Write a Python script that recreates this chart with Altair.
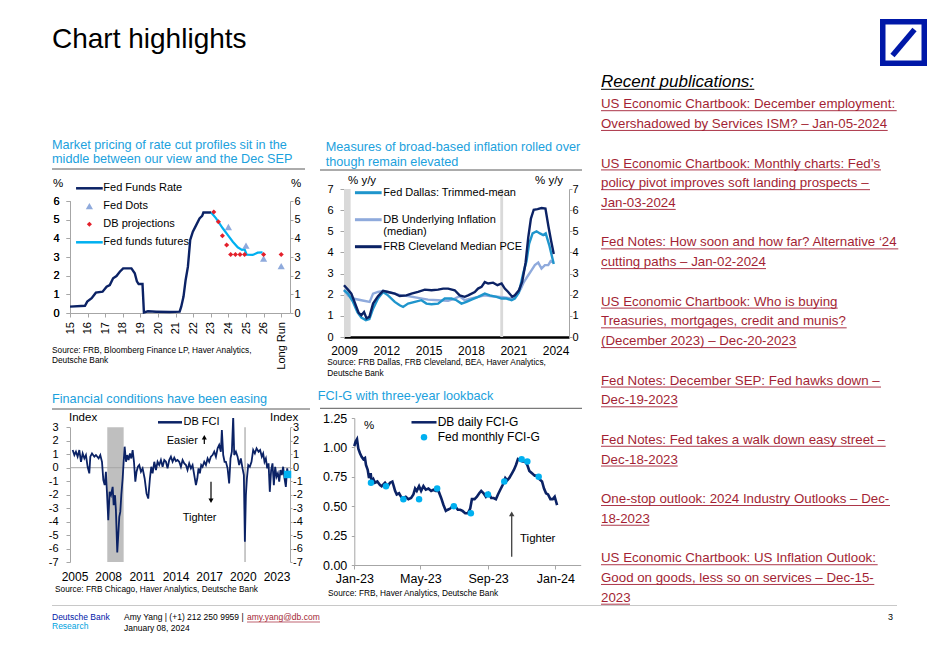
import altair as alt
import pandas as pd

FONT = "Liberation Sans"
NAVY = "#0B2265"
CYAN = "#00B0F0"
PERI = "#8FAADC"
TEAL = "#1F95CC"
RED = "#E3202B"
TBLUE = "#1BA1DD"
PRED = "#A31F34"
LOGO = "#0018A8"
AX = "#A6A6A6"

# ---------------- chart 1 data: rate path ----------------
ffr_year = [2015.0, 2015.85, 2015.98, 2016.23, 2016.47, 2016.85, 2017.08, 2017.26, 2017.45, 2017.64,
            2017.83, 2018.02, 2018.49, 2018.68, 2018.8, 2018.9, 2019.12, 2019.2, 2019.43, 2019.9,
            2020.66, 2021.23, 2021.32, 2021.45, 2021.57, 2021.7, 2021.83, 2021.98, 2022.17, 2022.36,
            2022.51, 2022.58, 2023.02]
ffr_val = [0.34, 0.39, 0.61, 0.79, 1.09, 1.14, 1.41, 1.5, 1.86, 1.98,
           2.21, 2.39, 2.39, 2.13, 1.7, 1.55, 1.55, 0.03, 0.09, 0.07,
           0.05, 0.07, 0.34, 0.88, 1.77, 2.48, 3.91, 4.36, 4.71, 5.07,
           5.2, 5.38, 5.38]
fut_year = [2023.02, 2023.3, 2023.68, 2023.96, 2024.25, 2024.53, 2024.77, 2024.92, 2025.04, 2025.38, 2025.66, 2025.94]
fut_val = [5.38, 5.07, 4.54, 4.18, 3.82, 3.52, 3.38, 3.41, 3.13, 3.11, 3.23, 3.25]
dots_year = [2024.0, 2025.0, 2026.0, 2027.0]
dots_val = [4.6, 3.6, 2.9, 2.5]
dbp_year = [2023.17, 2023.43, 2023.66, 2023.9, 2024.13, 2024.4, 2024.66, 2024.92, 2026.0, 2027.0]
dbp_val = [5.41, 4.89, 4.14, 3.64, 3.13, 3.13, 3.13, 3.13, 3.13, 3.13]

# ---------------- chart 2 data: inflation ----------------
clev_year = [2009.0, 2009.28, 2009.52, 2009.7, 2009.88, 2010.04, 2010.23, 2010.42, 2010.6, 2010.8,
             2011.06, 2011.41, 2011.77, 2012.12, 2012.6, 2012.95, 2013.42, 2013.78, 2014.25, 2014.73,
             2015.2, 2015.67, 2016.03, 2016.38, 2016.85, 2017.2, 2017.56, 2017.8, 2018.27, 2018.5,
             2018.75, 2018.98, 2019.22, 2019.57, 2019.88, 2020.17, 2020.4, 2020.64, 2020.92, 2021.11,
             2021.4, 2021.63, 2021.87, 2022.06, 2022.25, 2022.45, 2022.72, 2023.0, 2023.28, 2023.5,
             2023.68, 2023.87]
clev_val = [2.45, 2.24, 2.05, 1.74, 1.42, 1.14, 1.03, 1.18, 0.88, 0.95,
            1.58, 1.93, 2.18, 2.13, 2.05, 1.94, 1.97, 2.05, 2.13, 2.24,
            2.21, 2.24, 2.29, 2.29, 2.21, 1.97, 1.9, 1.97, 2.13, 2.29,
            2.37, 2.6, 2.53, 2.57, 2.45, 2.53, 2.29, 2.13, 1.9, 1.97,
            2.21, 2.6, 3.5, 4.7, 5.6, 6.02, 6.05, 6.1, 6.07, 5.2,
            4.55, 3.93]
trim_year = [2009.0, 2009.28, 2009.64, 2009.95, 2010.23, 2010.55, 2010.8, 2011.06, 2011.41, 2011.77,
             2012.12, 2012.6, 2012.95, 2013.19, 2013.54, 2014.02, 2014.49, 2014.84, 2015.2, 2015.67,
             2016.14, 2016.62, 2016.97, 2017.33, 2017.68, 2018.04, 2018.51, 2018.98, 2019.34, 2019.81,
             2020.17, 2020.52, 2020.88, 2021.11, 2021.4, 2021.7, 2021.94, 2022.12, 2022.37, 2022.65,
             2022.89, 2023.12, 2023.3, 2023.55, 2023.87]
trim_val = [2.21, 2.05, 1.66, 1.18, 0.92, 0.8, 0.85, 1.34, 1.82, 2.13,
            1.97, 1.66, 1.5, 1.42, 1.58, 1.66, 1.74, 1.58, 1.55, 1.58,
            1.82, 1.82, 1.74, 1.58, 1.66, 1.77, 1.9, 2.05, 1.97, 1.9,
            1.82, 1.82, 1.74, 1.82, 2.1, 3.0, 3.6, 4.4, 4.9, 5.0,
            4.9, 4.82, 4.9, 4.35, 3.45]
dbu_year = [2009.0, 2009.28, 2009.64, 2010.23, 2010.82, 2011.06, 2011.41, 2011.77, 2012.12, 2012.6,
            2013.07, 2013.54, 2014.25, 2014.96, 2015.67, 2016.38, 2016.85, 2017.2, 2017.56, 2018.04,
            2018.51, 2018.98, 2019.46, 2020.05, 2020.52, 2020.92, 2021.23, 2021.54, 2021.75, 2022.06,
            2022.3, 2022.53, 2022.77, 2023.0, 2023.24, 2023.48, 2023.65, 2023.87]
dbu_val = [2.24, 1.97, 1.82, 1.74, 1.66, 2.05, 2.13, 2.18, 2.13, 2.05,
           1.97, 1.94, 1.85, 1.77, 1.74, 1.71, 1.82, 1.93, 1.74, 1.82,
           1.9, 1.97, 1.93, 1.9, 1.86, 1.82, 1.97, 2.29, 2.6, 2.92,
           3.16, 3.4, 3.52, 3.24, 3.4, 3.4, 3.59, 3.52]
rec2_start = [2009.0, 2020.08]
rec2_end = [2009.47, 2020.28]

# ---------------- chart 3 data: DB FCI ----------------
fci_year = [2004.84, 2004.99, 2005.13, 2005.28, 2005.43, 2005.58, 2005.73, 2005.88, 2006.02, 2006.17,
            2006.32, 2006.41, 2006.56, 2006.77, 2006.91, 2007.15, 2007.3, 2007.45, 2007.57, 2007.69,
            2007.8, 2007.89, 2008.01, 2008.13, 2008.25, 2008.4, 2008.49, 2008.61, 2008.69, 2008.81,
            2008.9, 2008.99, 2009.08, 2009.17, 2009.29, 2009.38, 2009.47, 2009.59, 2009.7, 2009.82,
            2009.94, 2010.06, 2010.18, 2010.3, 2010.42, 2010.53, 2010.65, 2010.77, 2010.92, 2011.07,
            2011.25, 2011.42, 2011.57, 2011.72, 2011.84, 2011.96, 2012.11, 2012.26, 2012.4, 2012.55,
            2012.7, 2012.85, 2013.0, 2013.15, 2013.29, 2013.44, 2013.59, 2013.74, 2013.89, 2014.04,
            2014.18, 2014.33, 2014.48, 2014.63, 2014.78, 2014.93, 2015.07, 2015.22, 2015.37, 2015.52,
            2015.67, 2015.82, 2015.94, 2016.05, 2016.17, 2016.29, 2016.41, 2016.56, 2016.71, 2016.86,
            2017.0, 2017.15, 2017.3, 2017.45, 2017.6, 2017.75, 2017.89, 2018.04, 2018.13, 2018.25,
            2018.37, 2018.49, 2018.64, 2018.78, 2018.9, 2019.02, 2019.14, 2019.23, 2019.38, 2019.53,
            2019.67, 2019.82, 2019.97, 2020.09, 2020.18, 2020.27, 2020.36, 2020.48, 2020.62, 2020.77,
            2020.92, 2021.07, 2021.22, 2021.4, 2021.54, 2021.69, 2021.81, 2021.93, 2022.05, 2022.17,
            2022.29, 2022.4, 2022.52, 2022.64, 2022.76, 2022.88, 2023.0, 2023.12, 2023.24, 2023.35,
            2023.47, 2023.59, 2023.71, 2023.83, 2023.95, 2024.04]
fci_val = [1.31, 0.94, 1.19, 0.82, 1.31, 0.44, 1.06, 0.69, 0.94, 0.07,
           -0.42, 0.82, 1.06, 0.82, 0.94, 0.69, 0.94, 0.44, -0.92, -1.29,
           -0.3, -1.79, -3.9, -1.79, -2.04, -1.42, -2.78, -2.04, -3.15, -6.3,
           -5.0, -3.65, -3.28, -2.04, -0.8, 0.44, 1.56, 0.44, 0.94, 0.57,
           1.06, 0.69, 1.31, 0.44, -1.04, -0.3, 0.07, 0.2, -0.3, -0.05,
           -0.8, -1.91, -2.29, -0.8, 0.07, -0.42, 0.44, -0.17, 0.44, 0.2,
           0.57, 0.07, 0.57, 0.44, -0.05, 0.57, 0.82, 0.44, 0.74, 0.49,
           0.57, 0.44, 0.07, 0.57, 0.32, 0.2, -0.17, 0.32, -0.05, 0.2,
           -0.55, -1.29, -0.8, -0.05, -0.42, 0.2, 0.07, 0.44, 0.2, 0.69,
           0.44, 0.82, 0.94, 1.19, 0.82, 1.44, 1.69, 1.19, 2.8, 0.94,
           0.44, 0.44, -0.05, -1.17, 0.69, 1.19, 3.8, 0.94, 1.19, 0.82,
           0.2, 0.69, -0.05, -0.55, -5.5, -2.04, -0.8, 0.2, 0.07, 0.44,
           1.31, 1.06, 1.44, 1.19, 1.31, 0.82, 1.06, 0.44, 0.69, -0.05,
           0.32, -1.79, -0.17, 0.32, -1.29, 0.07, -0.67, -0.42, -1.04, -0.17,
           -0.55, 0.07, -0.8, -1.42, -0.05, -0.55]
rec3_start = [2007.92, 2020.12]
rec3_end = [2009.38, 2020.27]
fci_last_year = [2023.98]
fci_last_val = [-0.5]

# ---------------- chart 4 data: FCI-G ----------------
g_days = [0, 2.4, 4.9, 7.3, 10.3, 13.3, 16.4, 19.4, 21.2, 24.3,
          26.7, 29.7, 31.5, 34.6, 37.6, 41.8, 46.7, 49.7, 55.8, 60.6,
          64.9, 69.1, 71.6, 74, 77, 81.3, 84.9, 89.1, 93.4, 98.2,
          103.1, 107.3, 110.4, 113.4, 117.6, 121.3, 125.5, 129.8, 134.6, 139.5,
          143.7, 148, 152.8, 157.7, 161.9, 166.2, 169.8, 174, 178.3, 183.1,
          188, 192.2, 196.5, 201.3, 206.2, 210.4, 213.5, 218.3, 222.6, 226.8,
          230.4, 234.7, 238.9, 243.8, 248.6, 252.9, 257.1, 260.8, 265, 269.3,
          274.1, 277.7, 281.4, 286.2, 289.9, 293.5, 297.1, 301.4, 305.6, 310.5,
          314.1, 317.8, 322.6, 327.5, 331.7, 336, 340.8, 344.4, 348.1, 351.7,
          356, 360.2, 363.8, 366.3, 368.1]
g_vals = [1.01, 1.05, 1.07, 0.99, 0.95, 0.92, 0.9, 0.91, 0.85, 0.81,
          0.74, 0.78, 0.71, 0.73, 0.7, 0.71, 0.68, 0.67, 0.7, 0.67,
          0.7, 0.71, 0.67, 0.63, 0.6, 0.61, 0.58, 0.57, 0.58, 0.56,
          0.57, 0.6, 0.65, 0.63, 0.67, 0.63, 0.67, 0.64, 0.65, 0.63,
          0.64, 0.63, 0.63, 0.57, 0.51, 0.46, 0.47, 0.48, 0.5, 0.5,
          0.47, 0.47, 0.46, 0.44, 0.44, 0.48, 0.56, 0.56, 0.58, 0.61,
          0.63, 0.61, 0.58, 0.61, 0.57, 0.57, 0.56, 0.6, 0.64, 0.68,
          0.74, 0.72, 0.74, 0.78, 0.81, 0.85, 0.9, 0.89, 0.88, 0.88,
          0.85, 0.8, 0.78, 0.76, 0.76, 0.73, 0.71, 0.65, 0.61, 0.6,
          0.56, 0.56, 0.58, 0.54, 0.51]
m_days = [30.3, 57.6, 89.1, 117.6, 150.4, 180.7, 211.6, 242.6, 272.3, 303.8, 314.1, 334.7]
m_vals = [0.70, 0.67, 0.56, 0.56, 0.65, 0.50, 0.44, 0.60, 0.71, 0.90, 0.88, 0.75]

# ---------------- publications ----------------
pubs = [
    ["US Economic Chartbook: December employment:", "Overshadowed by Services ISM? \u2013 Jan-05-2024"],
    ["US Economic Chartbook: Monthly charts: Fed\u2019s", "policy pivot improves soft landing prospects \u2013", "Jan-03-2024"],
    ["Fed Notes: How soon and how far? Alternative \u201824", "cutting paths \u2013 Jan-02-2024"],
    ["US Economic Chartbook: Who is buying", "Treasuries, mortgages, credit and munis?", "(December 2023) \u2013 Dec-20-2023"],
    ["Fed Notes: December SEP: Fed hawks down \u2013", "Dec-19-2023"],
    ["Fed Notes: Fed takes a walk down easy street \u2013", "Dec-18-2023"],
    ["One-stop outlook: 2024 Industry Outlooks \u2013 Dec-", "18-2023"],
    ["US Economic Chartbook: US Inflation Outlook:", "Good on goods, less so on services \u2013 Dec-15-", "2023"],
]
# underline end (page x) of each publication line, measured on the reference
PUB_UL_END = [896.7, 887.7, 881, 870, 675.7, 898.3, 766, 837.7, 846.7, 796.7,
              881, 677.7, 885.7, 677.7, 890, 649.3, 877.7, 874.3, 630]

ONE = pd.DataFrame({"k": [0]})
NEG_FMT = "datum.value < 0 ? '-' + format(-datum.value, 'd') : format(datum.value, 'd')"


def T(s, x, y, size=11.0, color="#000000", align="left", style="normal"):
    return alt.Chart(ONE).mark_text(
        text=s, align=align, baseline="alphabetic", font=FONT,
        fontSize=size, color=color, fontStyle=style
    ).encode(x=alt.value(x), y=alt.value(y))


def H(x1, x2, y, color="#595959", w=1.0):
    return alt.Chart(ONE).mark_rule(color=color, strokeWidth=w).encode(
        x=alt.value(x1), x2=alt.value(x2), y=alt.value(y))


def V(x, y1, y2, color="#000000", w=1.2):
    return alt.Chart(ONE).mark_rule(color=color, strokeWidth=w).encode(
        x=alt.value(x), y=alt.value(y1), y2=alt.value(y2))


def HEAD(x, y, shape, color="#000000", size=28):
    return alt.Chart(ONE).mark_point(shape=shape, filled=True, size=size, color=color, opacity=1).encode(
        x=alt.value(x), y=alt.value(y))


def BOX(x1, x2, y1, y2, color):
    return alt.Chart(ONE).mark_rect(color=color).encode(
        x=alt.value(x1), x2=alt.value(x2), y=alt.value(y1), y2=alt.value(y2))


def SP(w, h):
    return alt.Chart(ONE).mark_point(opacity=0, size=0, strokeWidth=0).encode(
        x=alt.value(0), y=alt.value(0)).properties(width=w, height=h)


# ================= header / page cell (origin page 70,8) =================
hdr = [T("Chart highlights", -18, 40, size=28)]
hdr += [BOX(810, 857, 11, 58, LOGO), BOX(815.5, 851.5, 16.5, 52.5, "#FFFFFF"),
        alt.Chart(ONE).mark_rule(color=LOGO, strokeWidth=5.5).encode(
            x=alt.value(822.5), y=alt.value(47.5), x2=alt.value(844.5), y2=alt.value(21.5))]
hdr += [T("Recent publications:", 531, 78.7, size=17, style="italic"), H(531, 684.3, 81.3, "#000000", 1)]
slot = 0
k = 0
for item in pubs:
    for line in item:
        yb = 100.3 + 19.74 * slot
        hdr.append(T(line, 531, yb, size=13.3, color=PRED))
        hdr.append(H(531, PUB_UL_END[k] - 70, yb + 2.4, PRED, 0.9))
        slot += 1
        k += 1
    slot += 1
hdr += [H(-18, 827, 597.5, "#C8C8C8", 1),
        T("Deutsche Bank", -18, 612, size=8.5, color=LOGO),
        T("Research", -18, 621, size=8.5, color="#00A3E0"),
        T("Amy Yang | (+1) 212 250 9959 | ", 54, 612, size=8.5),
        T("amy.yang@db.com", 177, 612, size=8.5, color=PRED),
        H(177, 250, 614, PRED, 0.7),
        T("January 08, 2024", 54, 623, size=8.5),
        T("3", 818, 612, size=9)]
header = alt.layer(*hdr).properties(width=220, height=181)

# ================= chart 1 (cell origin page 70,189) =================
c1_names = ["Fed Funds Rate", "Fed Dots", "DB projections", "Fed funds futures"]
c1_cols = [NAVY, PERI, RED, CYAN]
LINE1 = "M-4.45,-0.42L4.45,-0.42L4.45,0.42L-4.45,0.42Z"
TRI1 = "M0,-1.1L1.2,1L-1.2,1Z"
DIA1 = "M0,-0.85L0.85,0L0,0.85L-0.85,0Z"
c1_shapes = [LINE1, TRI1, DIA1, LINE1]

df1_ffr = pd.DataFrame({"year": ffr_year, "value": ffr_val})
df1_fut = pd.DataFrame({"year": fut_year, "value": fut_val})
df1_pts = pd.DataFrame({
    "year": dots_year + dbp_year, "value": dots_val + dbp_val,
    "series": ["Fed Dots"] * len(dots_year) + ["DB projections"] * len(dbp_year)})

xs1 = alt.Scale(domain=[2015, 2027.5], nice=False, zero=False)
ys1 = alt.Scale(domain=[0, 6], nice=False, zero=False, range=[124, 12])
col1 = alt.Scale(domain=c1_names, range=c1_cols)
shp1 = alt.Scale(domain=c1_names, range=c1_shapes)
leg1 = dict(orient="none", legendX=13.9, legendY=-6.2, title=None, labelFont=FONT, labelFontSize=11,
            labelColor="#000000", symbolSize=36, symbolStrokeWidth=0, symbolOpacity=1,
            labelOffset=8.4, rowPadding=6, padding=0)
xax1 = alt.Axis(values=list(range(2015, 2028)),
                labelExpr="datum.value == 2027 ? 'Long Run' : format(datum.value - 2000, 'd')",
                labelAngle=270, labelAlign="right", labelBaseline="middle", labelFlush=False,
                tickSize=4, labelPadding=4.5, labelFontSize=11, title=None)
yax1l = alt.Axis(values=list(range(7)), orient="left", tickSize=4, labelPadding=7, labelFontSize=11, title=None)
yax1r = alt.Axis(values=list(range(7)), orient="right", tickSize=3, labelPadding=1, labelFontSize=11, title=None)

ffr1 = alt.Chart(df1_ffr).mark_line(strokeWidth=2.4, color=NAVY).encode(
    x=alt.X("year:Q", scale=xs1, axis=xax1),
    y=alt.Y("value:Q", scale=ys1, axis=yax1l))
fut1 = alt.Chart(df1_fut).mark_line(strokeWidth=2.2, color=CYAN).encode(
    x=alt.X("year:Q", scale=xs1, axis=xax1),
    y=alt.Y("value:Q", scale=ys1, axis=yax1l))
pts1 = alt.Chart(df1_pts).mark_point(filled=True, size=36, opacity=1).encode(
    x=alt.X("year:Q", scale=xs1, axis=xax1),
    y=alt.Y("value:Q", scale=ys1, axis=yax1r),
    color=alt.Color("series:N", scale=col1, legend=alt.Legend(**leg1)),
    shape=alt.Shape("series:N", scale=shp1, legend=alt.Legend(**leg1)),
)
ann1 = [T("Market pricing of rate cut profiles sit in the", -18, -40.5, size=12.7, color=TBLUE),
        T("middle between our view and the Dec SEP", -18, -26, size=12.7, color=TBLUE),
        H(-18, 235, -20),
        T("%", -17, -2.5, size=11.5), T("%", 221, -2.5, size=11.5),
        T("Source: FRB, Bloomberg Finance LP, Haver Analytics,", -18, 163.5, size=8.3),
        T("Deutsche Bank", -18, 173.5, size=8.3)]
chart1 = alt.layer(ffr1, fut1, pts1, *ann1).resolve_axis(y="independent").properties(width=220, height=124)

# ================= chart 2 (cell origin page 344,189) =================
c2_names = ["Fed Dallas: Trimmed-mean", "DB Underlying Inflation (median)", "FRB Cleveland Median PCE"]
c2_cols = [TEAL, PERI, NAVY]
df2 = pd.DataFrame({
    "year": dbu_year + trim_year + clev_year,
    "value": dbu_val + trim_val + clev_val,
    "series": [c2_names[1]] * len(dbu_year) + [c2_names[0]] * len(trim_year) + [c2_names[2]] * len(clev_year)})
rec2 = pd.DataFrame({"start": rec2_start, "end": rec2_end, "lo": [0, 0], "hi": [7, 7]})
xs2 = alt.Scale(domain=[2009, 2024.95], nice=False, zero=False)
ys2 = alt.Scale(domain=[0, 7], nice=False, zero=False)
xax2 = alt.Axis(values=[2009, 2012, 2015, 2018, 2021, 2024], format="d", labelFlush=False,
                domainColor="#000000", domainWidth=2.5, ticks=False,
                labelPadding=8, labelFontSize=12, title=None)

rect2 = alt.Chart(rec2).mark_rect(color="#D9D9D9").encode(
    x=alt.X("start:Q", scale=xs2, axis=xax2), x2="end:Q",
    y=alt.Y("hi:Q", scale=ys2, axis=alt.Axis(values=list(range(8)), orient="right", tickSize=3,
                                            labelPadding=0, labelFontSize=11, title=None)),
    y2="lo:Q")
lines2 = alt.Chart(df2).mark_line(strokeWidth=2.4).encode(
    x=alt.X("year:Q", scale=xs2, axis=xax2),
    y=alt.Y("value:Q", scale=ys2, axis=alt.Axis(values=list(range(8)), orient="left", tickSize=4,
                                               labelPadding=7, labelFontSize=11, title=None)),
    color=alt.Color("series:N", scale=alt.Scale(domain=c2_names, range=c2_cols), legend=alt.Legend(
        orient="none", legendX=9.3, legendY=-11.3, title=None, symbolType="stroke", symbolSize=712,
        symbolStrokeWidth=3, labelOffset=0, labelFont=FONT, labelFontSize=11, labelColor="#000000",
        rowPadding=6, padding=0, labelExpr="replace(datum.label, ' (median)', '')")),
)
ann2 = [T("Measures of broad-based inflation rolled over", -18.3, -38, size=12.7, color=TBLUE),
        T("though remain elevated", -18.3, -23, size=12.7, color=TBLUE),
        H(-24, 238, -19),
        T("% y/y", 4, -5, size=11.5), T("% y/y", 191, -5, size=11.5),
        T("(median)", 39.3, 46, size=11),
        T("Source: FRB Dallas, FRB Cleveland, BEA, Haver Analytics,", -16.7, 176, size=8.3),
        T("Deutsche Bank", -16.7, 186.5, size=8.3)]
chart2 = alt.layer(rect2, lines2, *ann2).resolve_axis(y="independent").properties(width=225, height=148)

# ================= chart 3 (cell origin page 70,418) =================
df3 = pd.DataFrame({"year": fci_year, "value": fci_val, "series": ["DB FCI"] * len(fci_year)})
rec3 = pd.DataFrame({"start": rec3_start, "end": rec3_end, "lo": [-7, -7], "hi": [3, 3]})
last3 = pd.DataFrame({"year": fci_last_year, "value": fci_last_val})
zero3 = pd.DataFrame({"z": [0]})
xs3 = alt.Scale(domain=[2004.6, 2024.2], nice=False, zero=False)
ys3 = alt.Scale(domain=[-7, 3], nice=False, zero=False, range=[144, 9.3])
xax3 = alt.Axis(values=[2005, 2008, 2011, 2014, 2017, 2020, 2023], format="d", labelFlush=False,
                domain=False, ticks=False, labelPadding=9, labelFontSize=12, title=None)

rect3 = alt.Chart(rec3).mark_rect(color="#BFBFBF").encode(
    x=alt.X("start:Q", scale=xs3, axis=xax3), x2="end:Q",
    y=alt.Y("hi:Q", scale=ys3, axis=alt.Axis(values=list(range(-7, 4)), orient="right", tickSize=2,
                                            labelPadding=0.5, labelFontSize=11, title=None,
                                            labelExpr=NEG_FMT)),
    y2="lo:Q")
zl3 = alt.Chart(zero3).mark_rule(color="#A6A6A6", strokeWidth=1).encode(
    y=alt.Y("z:Q", scale=ys3, axis=None))
line3 = alt.Chart(df3).mark_line(strokeWidth=1.8, clip=True).encode(
    x=alt.X("year:Q", scale=xs3, axis=xax3),
    y=alt.Y("value:Q", scale=ys3, axis=alt.Axis(values=list(range(-7, 4)), orient="left", tickSize=4,
                                               labelPadding=8, labelFontSize=11, title=None,
                                               labelExpr=NEG_FMT)),
    color=alt.Color("series:N", scale=alt.Scale(domain=["DB FCI"], range=[NAVY]), legend=alt.Legend(
        orient="none", legendX=86.5, legendY=-9.2, title=None, symbolType="stroke", symbolSize=576,
        symbolStrokeWidth=2.5, labelOffset=0, labelFont=FONT, labelFontSize=11, labelColor="#000000",
        padding=0)),
)
mk3 = alt.Chart(last3).mark_square(size=56, color=CYAN, opacity=1).encode(
    x=alt.X("year:Q", scale=xs3, axis=xax3), y=alt.Y("value:Q", scale=ys3, axis=None))
ann3 = [T("Financial conditions have been easing", -18, -15.5, size=12.7, color=TBLUE),
        H(-18, 240, -9),
        T("Index", -1, 2.7, size=11.5), T("Index", 200, 2.7, size=11.5),
        T("Source: FRB Chicago, Haver Analytics, Deutsche Bank", -15, 173.8, size=8.3),
        T("Easier", 96.7, 25.5, size=11),
        V(134.3, 26, 20.3), HEAD(134.3, 19.3, "triangle-up", "#000000", 26),
        V(141, 63.7, 81.3), HEAD(141, 82.8, "triangle-down", "#000000", 26),
        T("Tighter", 112.7, 103, size=11)]
chart3 = alt.layer(rect3, zl3, line3, mk3, *ann3).resolve_axis(y="independent").properties(width=220, height=144)

# ================= chart 4 (cell origin page 344,418) =================
base = pd.Timestamp("2023-01-01")
c4_names = ["DB daily FCI-G", "Fed monthly FCI-G"]
LINE4 = "M-3.86,-0.39L3.86,-0.39L3.86,0.39L-3.86,0.39Z"
df4 = pd.DataFrame({"date": base + pd.to_timedelta(g_days, unit="D"), "value": g_vals})
dm4 = pd.DataFrame({"date": base + pd.to_timedelta(m_days, unit="D"), "value": m_vals,
                    "series": [c4_names[1]] * len(m_days)})
xs4 = alt.Scale(domain=[alt.DateTime(year=2023, month=1, date=1), alt.DateTime(year=2024, month=2, date=16)],
                nice=False, range=[10.3, 236.7])
ys4 = alt.Scale(domain=[0, 1.25], nice=False, zero=False)
col4 = alt.Scale(domain=c4_names, range=[NAVY, CYAN])
shp4 = alt.Scale(domain=c4_names, range=[LINE4, "circle"])
leg4 = dict(orient="none", legendX=74, legendY=-1.7, title=None, labelFont=FONT, labelFontSize=12,
            labelColor="#000000", symbolSize=42, symbolStrokeWidth=0, symbolOpacity=1,
            labelOffset=7.7, rowPadding=3, padding=0)
xax4 = alt.Axis(values=[alt.DateTime(year=2023, month=1, date=1), alt.DateTime(year=2023, month=5, date=1),
                        alt.DateTime(year=2023, month=9, date=1), alt.DateTime(year=2024, month=1, date=1)],
                format="%b-%y", tickSize=4, labelPadding=3, labelFontSize=12.5, title=None, labelFlush=False)
yax4 = alt.Axis(values=[0, 0.25, 0.5, 0.75, 1.0, 1.25], format=".2f", offset=-10.3,
                tickSize=3, labelPadding=4.5, labelFontSize=12.5, title=None)

line4 = alt.Chart(df4).mark_line(strokeWidth=2.6, color=NAVY).encode(
    x=alt.X("date:T", scale=xs4, axis=xax4),
    y=alt.Y("value:Q", scale=ys4, axis=yax4),
)
pts4 = alt.Chart(dm4).mark_point(filled=True, size=42, opacity=1).encode(
    x=alt.X("date:T", scale=xs4, axis=xax4),
    y=alt.Y("value:Q", scale=ys4, axis=yax4),
    color=alt.Color("series:N", scale=col4, legend=alt.Legend(**leg4)),
    shape=alt.Shape("series:N", scale=shp4, legend=alt.Legend(**leg4)),
)
ann4 = [T("FCI-G with three-year lookback", -26.3, -18, size=12.7, color=TBLUE),
        H(-24, 238, -9.7),
        T("%", 20, 10.5, size=11.5),
        T("Source: FRB, Haver Analytics, Deutsche Bank", -16, 178, size=8.3),
        V(167.7, 138.7, 97.3, "#404040", 1.3), HEAD(167.7, 95.8, "triangle-up", "#404040", 30),
        T("Tighter", 176, 124, size=11.5)]
chart4 = alt.layer(line4, pts4, *ann4).properties(width=237, height=147)

# ================= page grid =================
cells = [
    SP(62, 1), header, SP(54, 1), SP(225, 1),
    SP(62, 1), chart1, SP(54, 1), chart2,
    SP(62, 81), SP(220, 1), SP(54, 1), SP(225, 1),
    SP(62, 1), chart3, SP(54, 1), chart4,
]

chart = alt.concat(*cells, columns=4, spacing=0, bounds="flush", align="each").resolve_scale(
    color="independent", shape="independent"
).properties(
    padding=0
).configure_view(stroke=None).configure_axis(
    labelFont=FONT, labelColor="#000000", domainColor=AX, tickColor=AX, grid=False, titleFont=FONT
).configure_legend(labelFont=FONT)

chart.save("out.html", embed_options={"renderer": "svg", "actions": False})
